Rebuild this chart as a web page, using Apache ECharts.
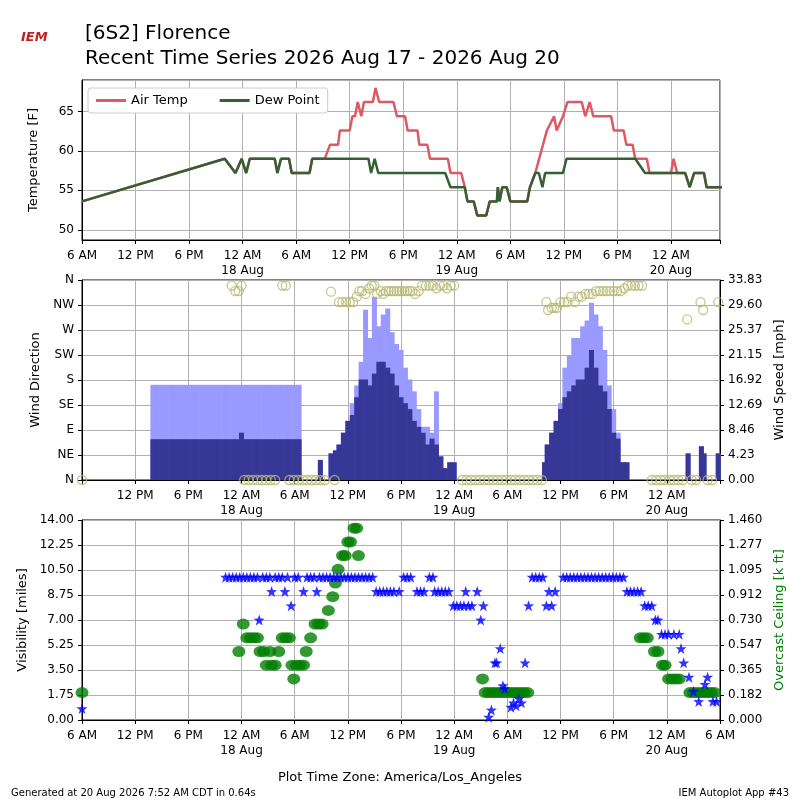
<!DOCTYPE html>
<html><head><meta charset="utf-8">
<script src="https://cdn.jsdelivr.net/npm/echarts@6/dist/echarts.min.js"></script>
<style>html,body{margin:0;padding:0;background:#fff}#c{width:800px;height:800px}</style>
</head><body><div id="c"></div>
<script>
// hours since 2026-08-17 06:00 (America/Los_Angeles)
const dewPoint = [[0,53.6],[16.0,59],[17.2,57.2],[17.9,59],[18.4,57.2],[18.8,59],[21.6,59],[21.9,57.2],[22.3,59],[23.2,59],[23.5,57.2],[25.5,57.2],[25.8,59],[32.1,59],[32.4,57.2],[32.8,59],[33.2,57.2],[40.7,57.2],[41.3,55.4],[42.9,55.4],[43.2,53.6],[43.9,53.6],[44.3,51.8],[45.3,51.8],[45.7,53.6],[46.5,53.6],[46.6,55.4],[46.8,53.6],[47.1,55.4],[47.6,55.4],[48.0,53.6],[49.9,53.6],[50.2,55.4],[50.8,57.2],[51.2,57.2],[51.6,55.4],[51.9,57.2],[53.9,57.2],[54.3,59],[62.0,59],[63.1,57.2],[67.6,57.2],[68.1,55.4],[68.6,57.2],[69.7,57.2],[70.0,55.4],[72,55.4]];
const airTemp = [[0,53.6],[16.0,59],[17.2,57.2],[17.9,59],[18.4,57.2],[18.8,59],[21.6,59],[21.9,57.2],[22.3,59],[23.2,59],[23.5,57.2],[25.5,57.2],[25.8,59],[27.2,59],[27.8,60.8],[28.7,60.8],[28.9,62.6],[30.0,62.6],[30.3,64.4],[30.6,64.4],[30.9,66.2],[31.3,64.4],[31.6,66.2],[32.6,66.2],[32.9,68],[33.3,66.2],[34.9,66.2],[35.3,64.4],[36.2,64.4],[36.5,62.6],[37.6,62.6],[37.8,60.8],[38.7,60.8],[39.0,59],[41.0,59],[41.3,57.2],[42.5,57.2],[42.9,55.4],[43.2,53.6],[43.9,53.6],[44.3,51.8],[45.3,51.8],[45.7,53.6],[46.5,53.6],[46.6,55.4],[46.8,53.6],[47.1,55.4],[47.6,55.4],[48.0,53.6],[49.9,53.6],[50.2,55.4],[50.8,57.2],[52.1,62.6],[52.9,64.4],[53.2,62.6],[53.9,64.4],[54.4,66.2],[56.0,66.2],[56.4,64.4],[56.9,66.2],[57.3,64.4],[59.3,64.4],[59.6,62.6],[60.7,62.6],[61.0,60.8],[61.7,60.8],[62.0,59],[63.3,59],[63.6,57.2],[66.0,57.2],[66.3,59],[66.7,57.2],[67.6,57.2],[68.1,55.4],[68.6,57.2],[69.7,57.2],[70.0,55.4],[72,55.4]];

const windHours = [8,8.5,9,9.5,10,10.5,11,11.5,12,12.5,13,13.5,14,14.5,15,15.5,16,16.5,17,17.5,18,18.5,19,19.5,20,20.5,21,21.5,22,22.5,23,23.5,24,24.5,
 26.9,28.1,28.6,29,29.5,30,30.5,31,31.5,32,32.5,33,33.5,34,34.5,35,35.5,36,36.5,37,37.5,38,38.5,39,39.5,40,40.5,41,41.5,42,
 52.2,52.5,53,53.5,54,54.5,55,55.5,56,56.5,57,57.5,58,58.5,59,59.5,60,60.5,61,61.5,68.4,69.9,70.2,71.8];
const windSpeed = [6.9,6.9,6.9,6.9,6.9,6.9,6.9,6.9,6.9,6.9,6.9,6.9,6.9,6.9,6.9,6.9,6.9,6.9,6.9,6.9,8.0,6.9,6.9,6.9,6.9,6.9,6.9,6.9,6.9,6.9,6.9,6.9,6.9,6.9,
 3.4,4.5,5,6,8,10,11,14,17,17,16,18,20,20,19,18,16,14,13,12,10,9,8,6,7,6,4,2,3,3,
 3,6,8,10,12,14,15,16,17,17,19,22,19,16,15,12,8,7,3,3,4.5,5.7,4.5,4.5];
const windGust = [16.1,16.1,16.1,16.1,16.1,16.1,16.1,16.1,16.1,16.1,16.1,16.1,16.1,16.1,16.1,16.1,16.1,16.1,16.1,16.1,16.1,16.1,16.1,16.1,16.1,16.1,16.1,16.1,16.1,16.1,16.1,16.1,16.1,16.1,
 3.4,4.5,5,6,8,10,13,16,20,28.8,24,31,26,28,29,25,23,22,19,17,15,12,9,9,8,15,4,2,3,3,
 3,6,8,10,13,19,21,24,24,26,27,30,28,26,22,16,12,8,3,3,4.5,5.7,4.5,4.5];
const windDir = [[0,0],[16.9,350],[17.3,340],[17.7,340],[18.0,350],[18.3,0],[18.8,0],[19.3,0],[19.8,0],[20.3,0],[20.8,0],[21.3,0],[21.8,0],[22.6,350],[23.0,350],[23.4,0],[23.9,0],[24.4,0],[24.9,0],[25.4,0],[25.9,0],[26.4,0],[26.9,0],[27.4,0],[28.1,339],[28.5,0],
 [29.0,320],[29.4,320],[29.8,320],[30.2,320],[30.6,320],[31.0,330],[31.3,340],[31.6,340],[32.0,335],[32.4,345],[32.7,350],[33.0,350],[33.3,335],[33.7,340],[34.0,335],[34.3,340],[34.6,340],[34.9,340],[35.2,340],[35.5,340],[35.8,340],[36.1,340],[36.4,340],[36.7,340],[37.0,340],[37.3,340],[37.6,335],[38.0,340],[38.4,350],[38.8,350],[39.2,350],[39.6,350],[40.0,345],[40.4,350],[40.8,350],[41.2,345],[41.6,350],[42.0,350],
 [42.9,0],[43.4,0],[43.9,0],[44.4,0],[44.9,0],[45.4,0],[45.9,0],[46.4,0],[46.9,0],[47.4,0],[47.9,0],[48.4,0],[48.9,0],[49.4,0],[49.9,0],[50.4,0],[50.9,0],[51.4,0],[51.9,0],
 [52.4,320],[52.6,306],[53.0,310],[53.3,310],[53.6,310],[54.0,320],[54.4,320],[54.8,320],[55.2,330],[55.6,320],[56.0,330],[56.4,330],[56.8,335],[57.2,335],[57.6,335],[58.0,340],[58.4,340],[58.8,340],[59.2,340],[59.6,340],[60.0,340],[60.4,340],[60.8,340],[61.2,345],[61.6,350],[62.0,350],[62.4,350],[62.8,350],[63.2,350],
 [64.3,0],[64.8,0],[65.3,0],[65.8,0],[66.3,0],[66.8,0],[67.3,0],[67.8,0],[68.3,289],[68.8,0],[69.3,0],[69.8,320],[70.1,306],[70.6,0],[71.1,0],[71.8,320]];
const visibility = [[0,0.8],[16.2,10],[16.6,10],[17.0,10],[17.4,10],[17.8,10],[18.2,10],[18.6,10],[19.0,10],[19.4,10],[19.8,10],[20.0,7],[20.4,10],[20.8,10],[21.2,10],[21.4,9],[21.8,10],[22.2,10],[22.6,10],[22.9,9],[23.2,10],[23.6,8],[24.0,10],[24.4,10],[25.0,9],[25.4,10],[25.8,10],[26.2,10],[26.5,9],[26.8,10],[27.2,10],[27.6,10],[28.0,10],[28.4,10],[28.8,10],[29.2,10],[29.6,10],[30.0,10],[30.4,10],[30.8,10],[31.2,10],[31.6,10],[32.0,10],[32.4,10],[32.8,10],[33.2,9],[33.6,9],[34.0,9],[34.4,9],[34.8,9],[35.2,9],[35.8,9],[36.3,10],[36.7,10],[37.1,10],[37.8,9],[38.2,9],[38.6,9],[39.2,10],[39.6,10],[39.8,9],[40.2,9],[40.6,9],[41.0,9],[41.4,9],[41.9,8],[42.3,8],[42.7,8],[43.1,8],[43.3,9],[43.6,8],[44.0,8],[44.6,9],[45.0,7],[45.3,8],[45.9,0.2],[46.2,0.7],[46.6,4.0],[46.8,4.0],[47.2,5.0],[47.5,2.4],[47.7,2.2],[48.4,0.9],[48.7,1.2],[49.0,1.0],[49.3,1.5],[49.6,1.2],[50.0,4.0],[50.4,8],[50.8,10],[51.2,10],[51.6,10],[52.0,10],[52.4,8],[52.7,9],[53.0,8],[53.4,9],[54.3,10],[54.7,10],[55.1,10],[55.5,10],[55.9,10],[56.3,10],[56.7,10],[57.1,10],[57.5,10],[57.9,10],[58.3,10],[58.7,10],[59.1,10],[59.5,10],[59.9,10],[60.3,10],[60.7,10],[61.1,10],[61.5,9],[61.9,9],[62.3,9],[62.7,9],[63.1,9],[63.5,8],[63.9,8],[64.3,8],[64.7,7],[65.0,7],[65.4,6],[65.8,6],[66.2,6],[66.8,6],[67.4,6],[67.6,5],[67.9,4],[68.5,3.0],[69.0,2.0],[69.6,1.3],[70.3,2.5],[70.6,3.0],[71.2,1.3],[71.6,1.3]];
const ceiling = [[0,0.2],[17.7,0.5],[18.2,0.7],[18.6,0.6],[19.0,0.6],[19.4,0.6],[19.8,0.6],[20.1,0.5],[20.5,0.5],[20.8,0.4],[21.2,0.5],[21.4,0.4],[21.8,0.4],[22.2,0.5],[22.6,0.6],[23.0,0.6],[23.4,0.6],[23.7,0.4],[23.9,0.3],[24.2,0.4],[24.6,0.4],[25.0,0.4],[25.3,0.5],[25.8,0.6],[26.3,0.7],[26.7,0.7],[27.1,0.7],[27.8,0.8],[28.3,0.9],[28.6,1.0],[28.9,1.1],[29.4,1.2],[29.7,1.2],[30.0,1.3],[30.3,1.3],[30.7,1.4],[31.0,1.4],[31.2,1.2],
 [45.2,0.3],[45.5,0.2],[45.9,0.2],[46.3,0.2],[46.7,0.2],[47.1,0.2],[47.5,0.2],[47.9,0.2],[48.3,0.2],[48.7,0.2],[49.1,0.2],[49.5,0.2],[49.9,0.2],[50.3,0.2],
 [63.0,0.6],[63.4,0.6],[63.8,0.6],[64.6,0.5],[65.0,0.5],[65.5,0.4],[65.8,0.4],[66.2,0.3],[66.6,0.3],[67.0,0.3],[67.4,0.3],[68.6,0.2],[69.0,0.2],[69.4,0.2],[69.8,0.2],[70.2,0.2],[70.6,0.2],[71.0,0.2],[71.4,0.2]];
const dirLabels = ['N','NE','E','SE','S','SW','W','NW','N'];
const speedLabels = ['0.00','4.23','8.46','12.69','16.92','21.15','25.37','29.60','33.83'];
const ceilLabels = ['0.000','0.182','0.365','0.547','0.730','0.912','1.095','1.277','1.460'];
const visLabels = ['0.00','1.75','3.50','5.25','7.00','8.75','10.50','12.25','14.00'];

const FONT = 'DejaVu Sans';
function timeLabel(v, skipEnds){
  if (skipEnds && (v<=0 || v>=72)) return '';
  const t = ((6+v)%24+24)%24, day = 17+Math.floor((6+v)/24);
  if (t===0) return '12 AM\n'+day+' Aug';
  return {6:'6 AM',12:'12 PM',18:'6 PM'}[t] || '';
}
const gridLine = {show:true,lineStyle:{color:'#b0b0b0',width:1}};
function xAx(i,max,skip){return {type:'value',gridIndex:i,min:0,max:max,interval:6,
  axisLine:{show:true,lineStyle:{color:'#000'}},axisTick:{show:true,length:4,lineStyle:{color:'#000'}},
  splitLine:gridLine,axisLabel:{color:'#000',fontFamily:FONT,fontSize:12,lineHeight:15,showMaxLabel:true,formatter:v=>timeLabel(v,skip)}};}
function yAx(o){return Object.assign({type:'value',axisLine:{show:true,lineStyle:{color:'#000'}},axisTick:{show:true,length:4,lineStyle:{color:'#000'}},
  splitLine:gridLine,nameLocation:'middle',nameTextStyle:{color:'#000',fontFamily:FONT,fontSize:13},
  axisLabel:{color:'#000',fontFamily:FONT,fontSize:12}},o);}
const chart = echarts.init(document.getElementById('c'));
chart.setOption({
  animation:false,
  textStyle:{fontFamily:FONT},
  title:[{text:'[6S2] Florence\nRecent Time Series 2026 Aug 17 - 2026 Aug 20',left:80,top:16,textStyle:{fontFamily:FONT,fontSize:20,fontWeight:'normal',color:'#000',lineHeight:25}},
    {text:'IEM',left:16,top:26,textStyle:{fontFamily:FONT,fontSize:13,fontStyle:'italic',fontWeight:'bold',color:'#c02020'}},
    {text:'Plot Time Zone: America/Los_Angeles',left:'center',top:766,textStyle:{fontFamily:FONT,fontSize:13,fontWeight:'normal',color:'#000'}},
    {text:'Generated at 20 Aug 2026 7:52 AM CDT in 0.64s',left:6,top:783,textStyle:{fontFamily:FONT,fontSize:10,fontWeight:'normal',color:'#000'}},
    {text:'IEM Autoplot App #43',right:6,top:783,textStyle:{fontFamily:FONT,fontSize:10,fontWeight:'normal',color:'#000'}}],
  legend:{data:['Air Temp','Dew Point'],left:88,top:88,orient:'horizontal',itemWidth:30,itemHeight:3,itemGap:32,
    borderColor:'#ccc',borderWidth:1,borderRadius:3,padding:[6,8],backgroundColor:'#fff',z:10,
    textStyle:{fontFamily:FONT,fontSize:13,color:'#000'},icon:'rect'},
  grid:[{left:82,right:80,top:80,height:160,show:true,borderColor:'#000'},
        {left:82,right:80,top:280,height:200,show:true,borderColor:'#000'},
        {left:82,right:80,top:520,height:200,show:true,borderColor:'#000'}],
  xAxis:[xAx(0,71.5,false),xAx(1,72,true),xAx(2,72,false)],
  yAxis:[yAx({gridIndex:0,min:48.7,max:69,splitNumber:4,name:'Temperature [F]',nameGap:42,
          axisLabel:{color:'#000',fontFamily:FONT,fontSize:12,showMinLabel:false,showMaxLabel:false}}),
    yAx({gridIndex:1,min:0,max:360,interval:45,name:'Wind Direction',nameGap:38,axisLabel:{color:'#000',fontFamily:FONT,fontSize:12,formatter:v=>dirLabels[Math.round(v/45)]}}),
    yAx({gridIndex:1,position:'right',min:0,max:33.83,interval:33.83/8,name:'Wind Speed [mph]',nameGap:52,splitLine:{show:false},axisLabel:{color:'#000',fontFamily:FONT,fontSize:12,formatter:v=>speedLabels[Math.round(v/(33.83/8))]}}),
    yAx({gridIndex:2,min:0,max:14,interval:1.75,name:'Visibility [miles]',nameGap:48,axisLabel:{color:'#000',fontFamily:FONT,fontSize:12,formatter:v=>visLabels[Math.round(v/1.75)]}}),
    yAx({gridIndex:2,position:'right',min:0,max:1.46,interval:0.1825,name:'Overcast Ceiling [k ft]',nameGap:48,splitLine:{show:false},
      nameTextStyle:{color:'#008000',fontFamily:FONT,fontSize:13},axisLabel:{color:'#000',fontFamily:FONT,fontSize:12,formatter:v=>ceilLabels[Math.round(v/0.1825)]}})],
  series:[
    {name:'Air Temp',type:'line',xAxisIndex:0,yAxisIndex:0,data:airTemp,showSymbol:false,lineStyle:{color:'#dc5a64',width:2.5},itemStyle:{color:'#dc5a64'},z:3},
    {name:'Dew Point',type:'line',xAxisIndex:0,yAxisIndex:0,data:dewPoint,showSymbol:false,lineStyle:{color:'#356035',width:2.5},itemStyle:{color:'#356035'},z:3},
    {type:'bar',xAxisIndex:1,yAxisIndex:2,data:windHours.map((h,i)=>[h,windGust[i]]),barWidth:5,barGap:'-100%',itemStyle:{color:'#9999ff'}},
    {type:'bar',xAxisIndex:1,yAxisIndex:2,data:windHours.map((h,i)=>[h,windSpeed[i]]),barWidth:5,barGap:'-100%',itemStyle:{color:'#373797'}},
    {type:'scatter',xAxisIndex:1,yAxisIndex:1,data:windDir,symbol:'circle',symbolSize:9,itemStyle:{color:'none',borderColor:'#b8b870',borderWidth:1.3},z:5},
    {type:'scatter',xAxisIndex:2,yAxisIndex:3,data:visibility,symbol:'path://M0,-10L2.35,-3.24L9.51,-3.09L3.8,1.24L5.88,8.09L0,4L-5.88,8.09L-3.8,1.24L-9.51,-3.09L-2.35,-3.24Z',symbolSize:11,itemStyle:{color:'#0000ff'},z:4},
    {type:'scatter',xAxisIndex:2,yAxisIndex:4,data:ceiling,symbol:'circle',symbolSize:[13,11],itemStyle:{color:'#008000'},z:3}
  ]
});
</script></body></html>
